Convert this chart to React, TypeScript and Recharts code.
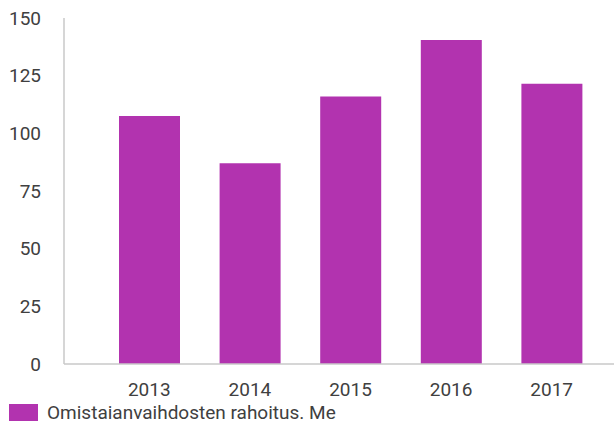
import { BarChart, Bar, XAxis, YAxis, Legend } from 'recharts';

const years = ['2013', '2014', '2015', '2016', '2017'];
const funding = [107.5, 87, 116, 140.5, 121.5];
const yTicks = [0, 25, 50, 75, 100, 125, 150];

const data = years.map((year, i) => ({ year, value: funding[i] }));

const BAR_COLOR = '#B233AF';
const TEXT_COLOR = '#404040';
const AXIS_COLOR = '#C8C8C8';
const tickStyle = { fill: TEXT_COLOR, fontSize: 19, fontFamily: 'Roboto' };

const LegendContent = () => (
    <div style={{ display: 'flex', alignItems: 'flex-start', fontFamily: 'Roboto', fontSize: 19, color: TEXT_COLOR }}>
        <span style={{ width: 29, height: 18, background: BAR_COLOR, display: 'inline-block' }} />
        <span style={{ marginLeft: 9, lineHeight: '19px', marginTop: -1, whiteSpace: 'nowrap' }}>
            Omistaianvaihdosten rahoitus. Me
        </span>
    </div>
);

export default function App() {
    return (
        <div style={{ position: 'absolute', left: 0, top: 0, width: 614, height: 421, background: '#fff' }}>
            <BarChart
                width={614}
                height={421}
                data={data}
                margin={{ top: 18, right: 0, left: 0, bottom: 0 }}
            >
                <XAxis
                    dataKey="year"
                    height={30}
                    padding={{ left: 35, right: 12 }}
                    axisLine={{ stroke: AXIS_COLOR, strokeWidth: 1.5 }}
                    tickLine={false}
                    tickMargin={13}
                    tick={tickStyle}
                />
                <YAxis
                    width={64}
                    domain={[0, 150]}
                    ticks={yTicks}
                    interval={0}
                    axisLine={{ stroke: AXIS_COLOR, strokeWidth: 1.5 }}
                    tickLine={false}
                    tickMargin={17}
                    tick={tickStyle}
                />
                <Legend
                    verticalAlign="bottom"
                    height={27}
                    content={<LegendContent />}
                    wrapperStyle={{ left: 9, top: 404, width: 'auto' }}
                />
                <Bar dataKey="value" fill={BAR_COLOR} barSize={61} isAnimationActive={false} />
            </BarChart>
        </div>
    );
}
